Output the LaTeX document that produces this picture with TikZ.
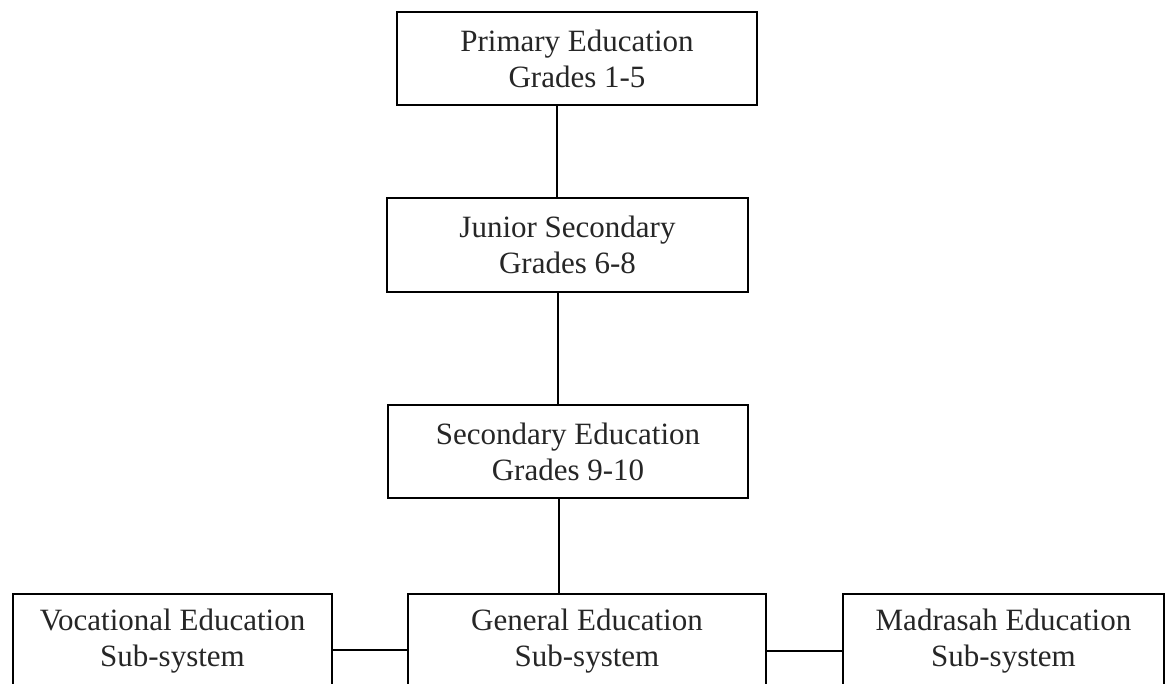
\documentclass[tikz,border=0pt]{standalone}
\usepackage{fontspec}
\setmainfont{Liberation Serif}
\begin{document}
\begin{tikzpicture}[x=1pt,y=-1pt,
  box/.style={draw=black, line width=1.6pt, rectangle, align=center, inner sep=0pt,
    font=\fontsize{31}{36}\selectfont, text=black!85},
  link/.style={draw=black, line width=1.4pt}]
\useasboundingbox (0,0) rectangle (1168,684);
\clip (0,0) rectangle (1168,684);
\fill[white] (0,0) rectangle (1168,684);
\node[box, minimum width=360pt, minimum height=93pt] (prim) at (577,58.5) {Primary Education\\Grades 1-5};
\node[box, minimum width=361pt, minimum height=94pt] (jun) at (567.5,245) {Junior Secondary\\Grades 6-8};
\node[box, minimum width=360pt, minimum height=93pt] (sec) at (568,451.5) {Secondary Education\\Grades 9-10};
\node[box, minimum width=319pt, minimum height=94pt] (voc) at (172.5,641) {Vocational Education\\Sub-system};
\node[box, minimum width=358pt, minimum height=94pt] (gen) at (587,641) {General Education\\Sub-system};
\node[box, minimum width=321pt, minimum height=94pt] (mad) at (1003.5,641) {Madrasah Education\\Sub-system};
\coordinate (x1) at (557,0);
\coordinate (x2) at (558,0);
\coordinate (x3) at (559,0);
\coordinate (y1) at (0,650);
\coordinate (y2) at (0,651);
\draw[link] (prim.south -| x1) -- (jun.north -| x1);
\draw[link] (jun.south -| x2) -- (sec.north -| x2);
\draw[link] (sec.south -| x3) -- (gen.north -| x3);
\draw[link] (voc.east |- y1) -- (gen.west |- y1);
\draw[link] (gen.east |- y2) -- (mad.west |- y2);
\end{tikzpicture}
\end{document}
